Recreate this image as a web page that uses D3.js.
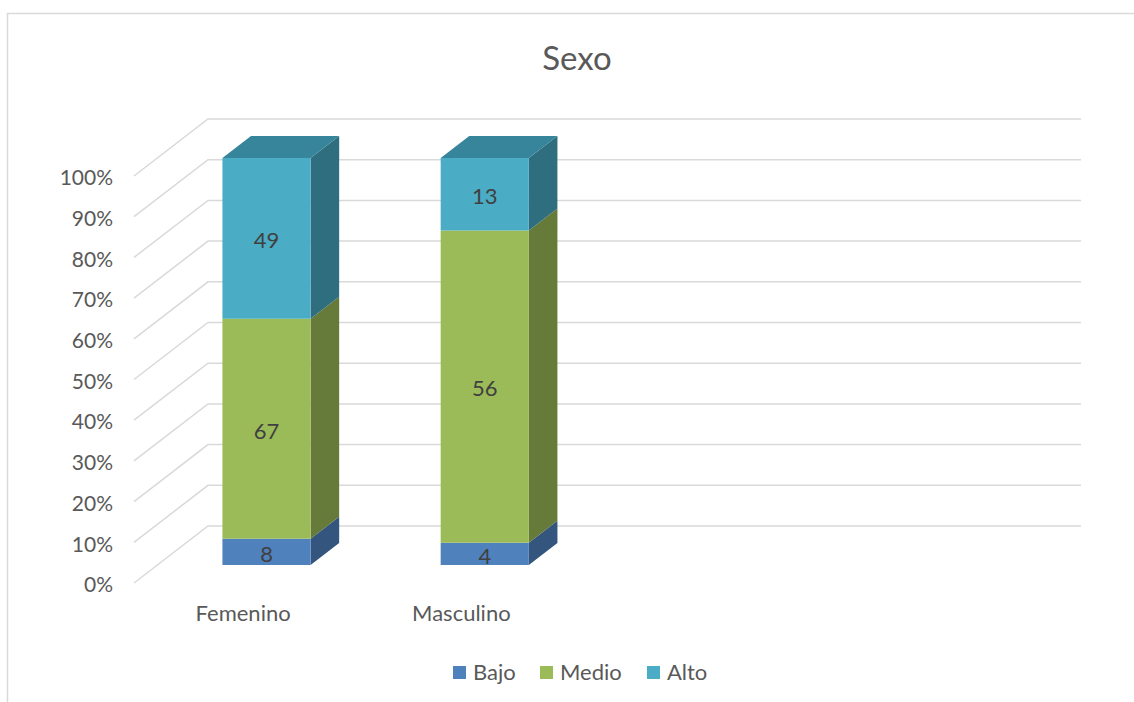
<!DOCTYPE html>
<html>
<head>
<meta charset="utf-8">
<script src="https://cdn.jsdelivr.net/npm/d3@7"></script>
<style>
  html, body { margin: 0; padding: 0; background: #fff; }
  svg { display: block; font-family: Lato, "Liberation Sans", sans-serif; }
</style>
</head>
<body>
<svg id="chart" width="1134" height="702"></svg>
<script>
// ---- data ----
const categories = ["Femenino", "Masculino"];
const seriesNames = ["Bajo", "Medio", "Alto"];
const bajo = [8, 4];
const medio = [67, 56];
const alto = [49, 13];
const tickValues = [0, 0.1, 0.2, 0.3, 0.4, 0.5, 0.6, 0.7, 0.8, 0.9, 1];
const tickLabels = ["0%", "10%", "20%", "30%", "40%", "50%", "60%", "70%", "80%", "90%", "100%"];
const title = "Sexo";

// ---- style ----
const frontColors = { Bajo: "#4f81bd", Medio: "#9bbb59", Alto: "#4bacc6" };
const sideColors  = { Bajo: "#33557e", Medio: "#667a3a", Alto: "#2f6e7e" };
const topColors   = { Bajo: "#3e6797", Medio: "#7c9647", Alto: "#37859a" };
const gridColor = "#d9d9d9";
const textColor = "#595959";
const labelColor = "#404040";

// ---- layout ----
const slotCount = 4;                 // category slots along the floor
const frontLeft = 134, frontRight = 1007;
const depthDX = 74, depthDY = 57;    // full floor depth in screen space
const barDepthStart = 0.316, barDepthEnd = 0.702;
const barWidthRatio = 0.404;

const svg = d3.select("#chart");

// chart frame
svg.append("rect")
  .attr("x", 7.5).attr("y", 13.5)
  .attr("width", 1300).attr("height", 900)
  .attr("fill", "none").attr("stroke", "#d9d9d9").attr("stroke-width", 1.5);

const x = d3.scaleBand().domain(d3.range(slotCount)).range([frontLeft, frontRight]);
const y = d3.scaleLinear().domain([0, 1]).range([583, 176]);

// project a point on the front plane back by depth d (0..1)
const proj = (px, v, d) => [px + d * depthDX, y(v) - d * depthDY];

// ---- gridlines: floor/side diagonal + back wall ----
const grid = svg.append("g").attr("fill", "none")
  .attr("stroke", gridColor).attr("stroke-width", 1.5);
tickValues.forEach(t => {
  const a = proj(frontLeft, t, 0), b = proj(frontLeft, t, 1), c = proj(frontRight, t, 1);
  grid.append("polyline").attr("points", [a, b, c].map(p => p.join(",")).join(" "));
});

// ---- value axis ----
const yAxis = d3.axisLeft(y)
  .tickValues(tickValues)
  .tickFormat((d, i) => tickLabels[i])
  .tickSize(0)
  .tickPadding(21);
const yg = svg.append("g").attr("transform", `translate(${frontLeft},2)`).call(yAxis);
yg.select(".domain").remove();
yg.selectAll("text").attr("fill", textColor).style("font-size", "21px")
  .style("font-family", "Lato, 'Liberation Sans', sans-serif");

// ---- stacked 100% data ----
const rows = categories.map((c, i) => ({ cat: c, Bajo: bajo[i], Medio: medio[i], Alto: alto[i] }));
const stack = d3.stack().keys(seriesNames).offset(d3.stackOffsetExpand);
const layers = stack(rows);

const barW = x.bandwidth() * barWidthRatio;
const bars = svg.append("g");

layers.forEach((layer, li) => {
  const key = layer.key;
  layer.forEach((seg, ci) => {
    const x0 = x(ci) + (x.bandwidth() - barW) / 2;
    const x1 = x0 + barW;
    const v0 = seg[0], v1 = seg[1];
    const pts = (arr) => arr.map(p => p.join(",")).join(" ");
    const f00 = proj(x0, v0, barDepthStart), f10 = proj(x1, v0, barDepthStart);
    const f01 = proj(x0, v1, barDepthStart), f11 = proj(x1, v1, barDepthStart);
    const b10 = proj(x1, v0, barDepthEnd), b11 = proj(x1, v1, barDepthEnd);
    const b01 = proj(x0, v1, barDepthEnd);
    // right side face
    bars.append("polygon").attr("points", pts([f10, b10, b11, f11])).attr("fill", sideColors[key]);
    // top face on the topmost segment
    if (li === layers.length - 1) {
      bars.append("polygon").attr("points", pts([f01, b01, b11, f11])).attr("fill", topColors[key]);
    }
    // front face
    bars.append("polygon").attr("points", pts([f00, f10, f11, f01])).attr("fill", frontColors[key]);
    // value label
    const raw = seg.data[key];
    bars.append("text")
      .attr("x", (f00[0] + f10[0]) / 2)
      .attr("y", (f00[1] + f01[1]) / 2)
      .attr("dy", "0.45em")
      .attr("text-anchor", "middle")
      .attr("fill", labelColor)
      .style("font-size", "22px")
      .text(raw);
  });
});

// ---- category labels ----
svg.append("g").selectAll("text").data(categories).join("text")
  .attr("x", (d, i) => x(i) + x.bandwidth() / 2)
  .attr("y", 621)
  .attr("text-anchor", "middle")
  .attr("fill", textColor)
  .style("font-size", "22px")
  .text(d => d);

// ---- title ----
svg.append("text")
  .attr("x", 577).attr("y", 70)
  .attr("text-anchor", "middle")
  .attr("fill", textColor)
  .style("font-size", "33px")
  .text(title);

// ---- legend ----
const legendX = [453, 540, 647];
const legend = svg.append("g");
seriesNames.forEach((s, i) => {
  legend.append("rect")
    .attr("x", legendX[i]).attr("y", 666)
    .attr("width", 13).attr("height", 13)
    .attr("fill", frontColors[s]);
  legend.append("text")
    .attr("x", legendX[i] + 20).attr("y", 680)
    .attr("fill", textColor)
    .style("font-size", "22px")
    .text(s);
});
</script>
</body>
</html>
